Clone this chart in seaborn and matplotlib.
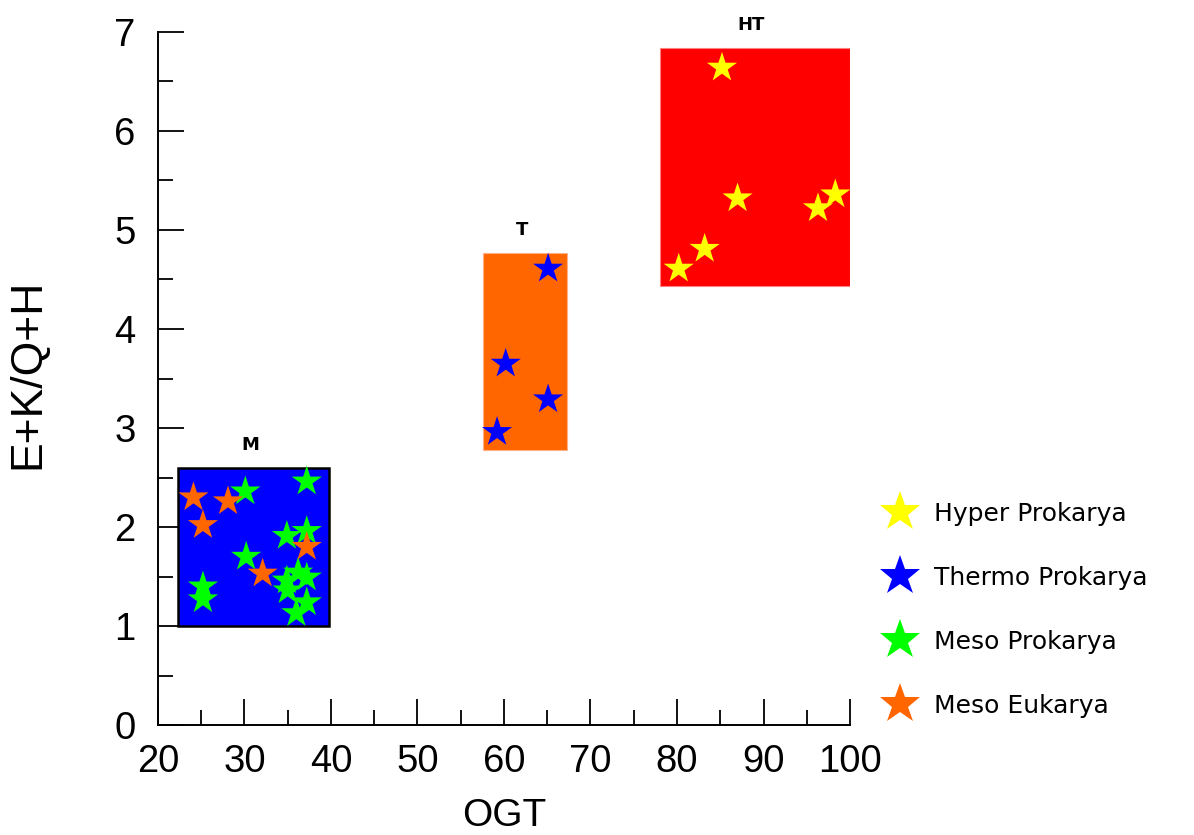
import numpy as np
import pandas as pd
import seaborn as sns
import matplotlib.pyplot as plt
from matplotlib.ticker import MultipleLocator, AutoMinorLocator

# --- data ---
hyper_ogt = [85.2, 87.0, 80.2, 83.2, 96.3, 98.3]
hyper_val = [6.64, 5.32, 4.61, 4.81, 5.22, 5.36]

thermo_ogt = [65.1, 60.2, 65.1, 59.2]
thermo_val = [4.61, 3.65, 3.29, 2.96]

meso_pro_ogt = [30.1, 37.2, 34.9, 37.2, 30.2, 25.2, 25.2, 34.9, 36.2, 37.2, 35.0, 37.2, 36.0]
meso_pro_val = [2.36, 2.46, 1.91, 1.96, 1.70, 1.40, 1.27, 1.46, 1.54, 1.49, 1.36, 1.24, 1.13]

meso_euk_ogt = [24.1, 28.1, 25.2, 37.2, 32.1]
meso_euk_val = [2.30, 2.26, 2.02, 1.80, 1.53]

groups = ['Hyper Prokarya', 'Thermo Prokarya', 'Meso Prokarya', 'Meso Eukarya']
star_colors = ['#FFFF00', '#0000FF', '#00FF00', '#FF6600']

# temperature class boxes
box_names = ['M', 'T', 'HT']
box_left = [22.3, 57.6, 78.0]
box_right = [39.8, 67.3, 100.0]
box_bottom = [1.0, 2.78, 4.43]
box_top = [2.6, 4.77, 6.84]
box_colors = ['#0000FF', '#FF6600', '#FF0000']
box_edges = ['black', '#FFB08A', '#FF8080']

df = pd.DataFrame({
    'OGT': hyper_ogt + thermo_ogt + meso_pro_ogt + meso_euk_ogt,
    'ratio': hyper_val + thermo_val + meso_pro_val + meso_euk_val,
    'group': [groups[0]] * len(hyper_ogt) + [groups[1]] * len(thermo_ogt)
             + [groups[2]] * len(meso_pro_ogt) + [groups[3]] * len(meso_euk_ogt),
})

sns.set_style('ticks')
plt.rcParams['font.family'] = ['Liberation Sans', 'DejaVu Sans']

fig = plt.figure(figsize=(11.94, 8.35), dpi=100)
ax = fig.add_axes([0.1323, 0.1317, 0.5796, 0.8300])

# boxes drawn as bars so they go through the axes scales
widths = np.array(box_right) - np.array(box_left)
heights = np.array(box_top) - np.array(box_bottom)
ax.bar(box_left, heights, width=widths, bottom=box_bottom, align='edge',
       color=box_colors, edgecolor=box_edges, linewidth=[1.8, 0.8, 0.8], zorder=1)
for name, l, r, t in zip(box_names, box_left, box_right, box_top):
    ax.text((l + r) / 2 - 0.4, t + 0.23, name, ha='center', va='center',
            fontsize=13, fontweight='bold', color='black', family=['DejaVu Sans'])

sns.scatterplot(data=df, x='OGT', y='ratio', hue='group', hue_order=groups,
                palette=star_colors, marker='*', s=520, linewidth=0, ax=ax, zorder=3)

ax.set_xlim(20, 100)
ax.set_ylim(0, 7)
ax.xaxis.set_major_locator(MultipleLocator(10))
ax.yaxis.set_major_locator(MultipleLocator(1))
ax.xaxis.set_minor_locator(AutoMinorLocator(2))
ax.yaxis.set_minor_locator(AutoMinorLocator(2))
ax.tick_params(which='major', direction='in', length=19, width=1.3, labelsize=27.5,
               pad=14, colors='black')
ax.tick_params(which='minor', direction='in', length=11, width=1.3, colors='black')
ax.tick_params(axis='y', pad=16)
for s in ['left', 'bottom']:
    ax.spines[s].set_linewidth(1.4)
    ax.spines[s].set_color('black')
sns.despine(ax=ax)

ax.set_xlabel('OGT', fontsize=28, color='black')
ax.set_ylabel('E+K/Q+H', fontsize=32, color='black')
ax.xaxis.set_label_coords(0.5, -0.105)
ax.yaxis.set_label_coords(-0.158, 0.507)

sns.move_legend(ax, 'center left', bbox_to_anchor=(1.0, 0.166), frameon=False,
                title=None, fontsize=18, labelspacing=1.6, handletextpad=0.35,
                markerscale=1.35, borderaxespad=0.6)
for t in ax.get_legend().get_texts():
    t.set_family(['DejaVu Sans'])
    t.set_color('black')

fig.savefig('out.png', dpi=100)
